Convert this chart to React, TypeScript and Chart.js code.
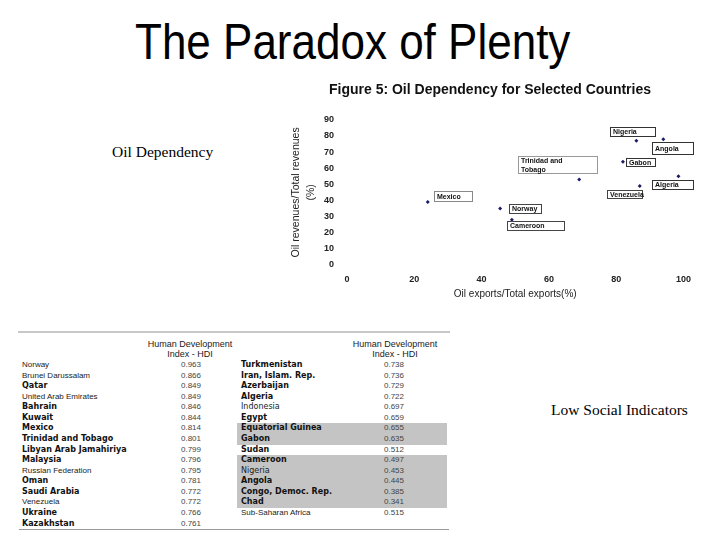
import React, { useEffect, useRef } from "react";
import { Chart, registerables } from "chart.js";

Chart.register(...registerables);

// ---------- scatter data ----------
const countries = [
  "Mexico",
  "Norway",
  "Cameroon",
  "Trinidad and Tobago",
  "Nigeria",
  "Angola",
  "Gabon",
  "Algeria",
  "Venezuela",
];
const oilExportsShare = [24, 45.5, 49, 69, 86, 94, 82, 98.5, 87];
const oilRevenueShare = [39, 35, 28, 53, 77, 78, 64, 55, 49];

const chartTitle = "Figure 5: Oil Dependency for Selected Countries";
const xAxisTitle = "Oil exports/Total exports(%)";
const yAxisTitle = ["Oil revenues/Total revenues", "(%)"];

// ---------- HDI table data ----------
const hdiLeftCountries = [
  "Norway",
  "Brunei Darussalam",
  "Qatar",
  "United Arab Emirates",
  "Bahrain",
  "Kuwait",
  "Mexico",
  "Trinidad and Tobago",
  "Libyan Arab Jamahiriya",
  "Malaysia",
  "Russian Federation",
  "Oman",
  "Saudi Arabia",
  "Venezuela",
  "Ukraine",
  "Kazakhstan",
];
const hdiLeftValues = [
  "0.963", "0.866", "0.849", "0.849", "0.846", "0.844", "0.814", "0.801",
  "0.799", "0.796", "0.795", "0.781", "0.772", "0.772", "0.766", "0.761",
];
const hdiRightCountries = [
  "Turkmenistan",
  "Iran, Islam. Rep.",
  "Azerbaijan",
  "Algeria",
  "Indonesia",
  "Egypt",
  "Equatorial Guinea",
  "Gabon",
  "Sudan",
  "Cameroon",
  "Nigeria",
  "Angola",
  "Congo, Democ. Rep.",
  "Chad",
  "Sub-Saharan Africa",
];
const hdiRightValues = [
  "0.738", "0.736", "0.729", "0.722", "0.697", "0.659", "0.655", "0.635",
  "0.512", "0.497", "0.453", "0.445", "0.385", "0.341", "0.515",
];

// ---------- styles (not data) ----------
// a = arial regular, v = verdana-like regular, b = verdana-like bold
const leftStyles = ["a", "a", "b", "a", "b", "b", "b", "b", "b", "b", "a", "b", "b", "a", "b", "b"];
const rightStyles = ["b", "b", "b", "b", "v", "b", "b", "b", "b", "b", "v", "b", "b", "b", "a"];
const rightShaded = [false, false, false, false, false, false, true, true, false, true, true, true, true, true, false];

const labelBoxes = [
  { dx: 6, dy: -11, w: 38, h: 10, border: "#888" },
  { dx: 9, dy: -4.5, w: 32, h: 9, border: "#444" },
  { dx: -5, dy: 1.5, w: 57, h: 9, border: "#444" },
  { dx: -61, dy: -23, w: 79, h: 17, border: "#999" },
  { dx: -26, dy: -13.5, w: 45, h: 9, border: "#333" },
  { dx: -11, dy: 2.5, w: 41, h: 12, border: "#333" },
  { dx: 3.5, dy: -3.5, w: 29, h: 8, border: "#333" },
  { dx: -26.5, dy: 3.5, w: 41, h: 9, border: "#333" },
  { dx: -33, dy: 4, w: 35, h: 8, border: "#444" },
];

const labelLines = (name: string): string[] => {
  const words = name.split(" ");
  return words.length > 2 ? [words.slice(0, 2).join(" "), words.slice(2).join(" ")] : [name];
};

const SANS = "'Liberation Sans', Arial, sans-serif";
const VERDANA = "'DejaVu Sans', Verdana, sans-serif";
const SERIF = "'Liberation Serif', 'Times New Roman', serif";

const labelPlugin = {
  id: "countryLabels",
  afterDatasetsDraw(chart: any) {
    const ctx = chart.ctx as CanvasRenderingContext2D;
    const xs = chart.scales.x;
    const ys = chart.scales.y;
    ctx.save();
    countries.forEach((name, i) => {
      const px = xs.getPixelForValue(oilExportsShare[i]);
      const py = ys.getPixelForValue(oilRevenueShare[i]);
      const b = labelBoxes[i];
      const x = Math.round(px + b.dx);
      const y = Math.round(py + b.dy);
      ctx.fillStyle = "#ffffff";
      ctx.fillRect(x, y, b.w, b.h);
      ctx.strokeStyle = b.border;
      ctx.lineWidth = 1;
      ctx.strokeRect(x + 0.5, y + 0.5, b.w, b.h);
      const lines = labelLines(name);
      ctx.fillStyle = "#111";
      ctx.font = `bold 7px ${SANS}`;
      ctx.textBaseline = "middle";
      ctx.textAlign = "left";
      const lh = b.h / lines.length;
      lines.forEach((ln, j) => {
        ctx.fillText(ln, x + 3, y + 1 + lh * (j + 0.5));
      });
    });
    ctx.restore();
  },
};

function ScatterChart() {
  const ref = useRef<HTMLCanvasElement | null>(null);
  useEffect(() => {
    if (!ref.current) return;
    const chart = new Chart(ref.current, {
      type: "scatter",
      data: {
        datasets: [
          {
            data: countries.map((_, i) => ({ x: oilExportsShare[i], y: oilRevenueShare[i] })),
            pointStyle: "rectRot",
            pointRadius: 2,
            backgroundColor: "#1a1a66",
            borderColor: "#1a1a66",
            borderWidth: 0,
          },
        ],
      },
      options: {
        animation: false,
        responsive: false,
        layout: { padding: { left: 13, right: 13, top: 0, bottom: 0 } },
        plugins: {
          legend: { display: false },
          tooltip: { enabled: false },
          title: {
            display: true,
            text: chartTitle,
            color: "#111",
            font: { family: SANS, size: 14, weight: "bold", lineHeight: 1.2 },
            padding: { top: 7, bottom: 21 },
          },
        },
        scales: {
          x: {
            type: "linear",
            min: 0,
            max: 100,
            grid: { display: false, drawTicks: false },
            border: { display: false },
            ticks: {
              stepSize: 20,
              padding: 9,
              color: "#222",
              font: { family: SANS, size: 9, weight: "bold" },
            },
            title: {
              display: true,
              text: xAxisTitle,
              color: "#222",
              font: { family: SANS, size: 10 },
              padding: { top: 0, bottom: 5 },
            },
            afterFit: (s: any) => {
              s.height = 40;
            },
          },
          y: {
            type: "linear",
            min: 0,
            max: 90,
            grid: { display: false, drawTicks: false },
            border: { display: false },
            ticks: {
              stepSize: 10,
              padding: 13,
              color: "#222",
              font: { family: SANS, size: 9, weight: "bold" },
            },
            title: {
              display: true,
              text: yAxisTitle,
              color: "#222",
              font: { family: SANS, size: 10.5, lineHeight: 1.4 },
              padding: { top: -4, bottom: 0 },
            },
            afterFit: (s: any) => {
              s.width = 54;
            },
          },
        },
      } as any,
      plugins: [labelPlugin],
    });
    return () => chart.destroy();
  }, []);
  return <canvas ref={ref} width={420} height={230} style={{ width: 420, height: 230, display: "block" }} />;
}

const ROW0 = 365;
const ROWH = 10.57;

function fontFor(style: string) {
  if (style === "b") return { fontFamily: VERDANA, fontWeight: "bold" as const, fontSize: 8, color: "#111" };
  if (style === "v") return { fontFamily: VERDANA, fontWeight: "normal" as const, fontSize: 8, color: "#222" };
  return { fontFamily: SANS, fontWeight: "normal" as const, fontSize: 8, color: "#222" };
}

function TableRows(props: { names: string[]; values: string[]; styles: string[]; nameX: number; valueX: number }) {
  const { names, values, styles, nameX, valueX } = props;
  return (
    <>
      {names.map((n, i) => {
        const cy = ROW0 + i * ROWH;
        return (
          <React.Fragment key={n}>
            <div
              style={{
                position: "absolute",
                left: nameX,
                top: cy - 5,
                height: 10,
                lineHeight: "10px",
                whiteSpace: "nowrap",
                ...fontFor(styles[i]),
              }}
            >
              {n}
            </div>
            <div
              style={{
                position: "absolute",
                left: valueX - 20,
                width: 40,
                top: cy - 5,
                height: 10,
                lineHeight: "10px",
                textAlign: "center",
                fontFamily: SANS,
                fontSize: 8,
                color: "#444",
              }}
            >
              {values[i]}
            </div>
          </React.Fragment>
        );
      })}
    </>
  );
}

function Header(props: { cx: number }) {
  const common: React.CSSProperties = {
    position: "absolute",
    left: props.cx - 60,
    width: 120,
    textAlign: "center",
    fontFamily: SANS,
    fontSize: 9,
    color: "#222",
    height: 10,
    lineHeight: "10px",
    whiteSpace: "nowrap",
  };
  return (
    <>
      <div style={{ ...common, top: 339 }}>Human Development</div>
      <div style={{ ...common, top: 349 }}>Index - HDI</div>
    </>
  );
}

export default function App() {
  return (
    <div
      style={{
        position: "fixed",
        left: 0,
        top: 0,
        width: 720,
        height: 540,
        background: "#fff",
        overflow: "hidden",
      }}
    >
      <div
        style={{
          position: "absolute",
          left: 135,
          top: 18,
          fontFamily: SANS,
          fontSize: 44,
          lineHeight: "44px",
          color: "#000",
          whiteSpace: "nowrap",
          transform: "scaleY(1.12)",
          transformOrigin: "top left",
        }}
      >
        The Paradox of Plenty
      </div>
      <div
        style={{
          position: "absolute",
          left: 112,
          top: 144,
          fontFamily: SERIF,
          fontSize: 15.5,
          lineHeight: "15px",
          color: "#000",
          whiteSpace: "nowrap",
        }}
      >
        Oil Dependency
      </div>
      <div
        style={{
          position: "absolute",
          left: 551,
          top: 402,
          fontFamily: SERIF,
          fontSize: 15.5,
          lineHeight: "15px",
          color: "#000",
          whiteSpace: "nowrap",
        }}
      >
        Low Social Indicators
      </div>

      <div style={{ position: "absolute", left: 280, top: 75, width: 420, height: 230 }}>
        <ScatterChart />
      </div>

      {/* HDI table */}
      <div style={{ position: "absolute", left: 18, top: 331, width: 432, height: 2, background: "#c8c8c8" }} />
      {rightShaded.map((s, i) =>
        s ? (
          <div
            key={"sh" + i}
            style={{
              position: "absolute",
              left: 237,
              width: 210,
              top: ROW0 + i * ROWH - ROWH / 2,
              height: ROWH + 0.6,
              background: "#c4c4c4",
            }}
          />
        ) : null
      )}
      <Header cx={190} />
      <Header cx={395} />
      <TableRows names={hdiLeftCountries} values={hdiLeftValues} styles={leftStyles} nameX={22} valueX={191} />
      <TableRows names={hdiRightCountries} values={hdiRightValues} styles={rightStyles} nameX={241} valueX={394} />
      <div style={{ position: "absolute", left: 19, top: 529, width: 430, height: 1, background: "#999" }} />
    </div>
  );
}
